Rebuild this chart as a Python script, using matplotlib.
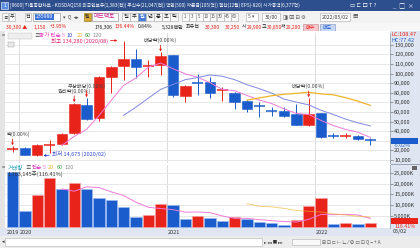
import numpy as np
import matplotlib
matplotlib.use('Agg')
import matplotlib.pyplot as plt
from matplotlib.patches import Rectangle
import matplotlib.transforms as mtrans

plt.rcParams['font.family'] = ['Noto Sans CJK KR', 'DejaVu Sans']

W, H = 420, 248

# monthly candles, 2019/12 .. 2022/05
months = ['2019/12', '2020/01', '2020/02', '2020/03', '2020/04', '2020/05', '2020/06',
          '2020/07', '2020/08', '2020/09', '2020/10', '2020/11', '2020/12', '2021/01',
          '2021/02', '2021/03', '2021/04', '2021/05', '2021/06', '2021/07', '2021/08',
          '2021/09', '2021/10', '2021/11', '2021/12', '2022/01', '2022/02', '2022/03',
          '2022/04', '2022/05']
opens = [21000, 22900, 15200, 25700, 27000, 37900, 67300, 53400, 96700, 108100,
         114800, 107500, 108600, 119300, 76600, 90800, 91500, 82400, 80100, 71400,
         66700, 61800, 60700, 57600, 46500, 58600, 35500, 35000, 35400, 30800]
highs = [24600, 23400, 26500, 30900, 38000, 69500, 74600, 97000, 107500, 134280,
         125200, 113900, 122000, 119500, 88000, 99500, 96500, 86300, 81000, 72500,
         70500, 65500, 65500, 68600, 74600, 59000, 38300, 38000, 36000, 33000]
lows = [18400, 15000, 14675, 17400, 26000, 37000, 51500, 50500, 79400, 93200,
        95200, 96500, 98500, 76000, 69900, 77700, 75000, 71400, 62900, 60300,
        55100, 55800, 55000, 46000, 45500, 32600, 33000, 32500, 31000, 26000]
closes = [22000, 15200, 25700, 26700, 37100, 68300, 52400, 96100, 106500, 114800,
          107100, 107800, 118200, 77700, 87000, 90200, 79400, 83000, 70700, 62800,
          66000, 61300, 55800, 46500, 57900, 34300, 35200, 35600, 31900, 30300]

# price moving averages (5 / 10 / 20)
ma5 = [None] * 4 + [25300, 34600, 42000, 56100, 72100, 87600, 95400, 106500, 110900,
                    105100, 99600, 96200, 90500, 83500, 82100, 77200, 72400, 68800,
                    63300, 58500, 57500, 51200, 45900, 41900, 39000, 33500]
ma10 = [None] * 9 + [56500, 65000, 74300, 83500, 88600, 93600, 95800, 98500, 97200,
                     93600, 88400, 84300, 79600, 73400, 70300, 67400, 61800, 57400,
                     52600, 48700, 45500]
ma20 = [None] * 19 + [72400, 74600, 76900, 78400, 79400, 80500, 78800, 77900, 74900,
                      71200, 66900]

# volume in thousand shares
volume = [25460, 7270, 14940, 22480, 17500, 20050, 17500, 13280, 12550, 9210,
          4700, 5780, 10430, 9980, 3520, 5010, 4240, 2890, 4420, 3520,
          2170, 1850, 950, 3200, 9660, 13450, 1260, 1850, 1515, 1763]
vol_ma5 = [None] * 4 + [17530, 16450, 18490, 18160, 16180, 14520, 11450, 9100, 8530,
                        8020, 6880, 6940, 6640, 5130, 4020, 4020, 3450, 2970, 2580,
                        2340, 3570, 5820, 5700, 5880, 5550, 3970]
vol_ma20 = [None] * 19 + [10740, 9570, 9300, 8600, 7640, 7250, 6920, 6100, 5530,
                          4980, 4610]

price_ticks = [10000, 20000, 30000, 40000, 50000, 60000, 70000, 80000, 90000,
               100000, 110000, 120000, 130000]
price_tick_labels = ['10,000', '20,000', '30,000', '40,000', '50,000', '60,000', '70,000',
                     '80,000', '90,000', '100,000', '110,000', '120,000', '130,000']
vol_ticks = [5000, 10000, 15000, 20000, 25000]
vol_tick_labels = ['5,000K', '10,000K', '15,000K', '20,000K', '25,000K']

year_starts = [0, 1, 13, 25]
year_labels = ['2019', '2020', '2021', '2022']

# (candle, label); the first label is cut by the left edge in the original
events = [(0, '락(0.00%)'), (5, '권리락(0.00%)'), (6, '무상배당(0.00%)'),
          (12, '배당락(0.00%)'), (24, '배당락(0.00%)')]
hi_idx, lo_idx = 9, 2

RED = '#e8231a'
BLUE = '#1b5ccc'
PINK = '#f07ad8'
MBLUE = '#8088e0'
YEL = '#f0b428'
GREEN = '#3aa040'
AXBG = '#dfe6f1'

fig = plt.figure(figsize=(W / 100, H / 100), dpi=100)
fig.patch.set_facecolor('#f0f0f0')


def fx(x):
    return x / W


def fy(y):
    return 1 - y / H


def frect(x0, y0, x1, y1, fc, ec='none', lw=0.5, z=0):
    fig.add_artist(Rectangle((fx(x0), fy(y1)), (x1 - x0) / W, (y1 - y0) / H,
                             transform=fig.transFigure, facecolor=fc, edgecolor=ec,
                             linewidth=lw, zorder=z))


def ftext(x, y, s, size=4.2, color='#222222', ha='left', **kw):
    fig.text(fx(x), fy(y), s, fontsize=size, color=color, ha=ha, va='center', **kw)


# ---- window chrome ----
frect(0, 0, 420, 11, '#2e4f8e')
frect(1, 2, 8, 9, '#5b8de0', ec='white', lw=0.4)
ftext(4.5, 5.5, '1', size=3.5, color='white', ha='center')
ftext(10, 5.5, '[0600] 키움종합차트 - KOSDAQ150 외국인보유(1,383(천)) 주식수(21,047(천)) '
      '액면(500) 자본금(105(억)) 결산(12월) EPS(-820) 시가총액(6,377억)',
      size=3.4, color='white')
ftext(350, 5.5, '▭ ⊏ 口 T ?', size=4, color='white')
ftext(393, 5.5, '_  □  ×', size=4.3, color='white')

frect(0, 11, 420, 23, '#f2f2f2')
for bx, s in [(2, 'ㄹ'), (9, '우'), (25, '전')]:
    frect(bx, 13, bx + 6, 21, '#fafafa', ec='#a8a8a8', lw=0.4)
    ftext(bx + 3, 17, s, size=3.6, ha='center')
frect(33, 13, 60, 21, 'white', ec='#8a8a8a', lw=0.4)
frect(35, 14, 54, 20, '#3b73d8')
ftext(44.5, 17, '235980', size=3.7, color='white', ha='center')
ftext(63, 17, '▾  Q  ◂▸', size=3.6, color='#555555')
frect(84, 13, 91, 21, '#d9a830', ec='#8a6a10', lw=0.4)
ftext(87.5, 17, '웹', size=3.4, color='#333333', ha='center')
frect(92, 13, 118, 21, 'white', ec='#8a8a8a', lw=0.4)
ftext(94, 17, '메드팩토', size=4.2, color='#d02090')
period = ['일', '주', '월', '년', '분', '초', '틱']
for k, s in enumerate(period):
    bx = 122 + 8 * k
    sel = s == '월'
    frect(bx, 13, bx + 7.5, 21, '#4a7fd8' if sel else '#fafafa', ec='#a8a8a8', lw=0.4)
    ftext(bx + 3.75, 17, s, size=3.8, color='white' if sel else '#222222', ha='center')
for k, s in enumerate(['1', '3', '5', '10', '15', '30', '45', '60']):
    bx = 182 + 7 * k
    frect(bx, 13, bx + 6.5, 21, '#fafafa', ec='#a8a8a8', lw=0.4)
    ftext(bx + 3.25, 17, s, size=3.2, color='#555555', ha='center')
frect(246, 13, 258, 21, 'white', ec='#a8a8a8', lw=0.4)
ftext(248, 17, '5 ▾', size=3.6, color='#555555')
frect(262, 13, 280, 21, 'white', ec='#a8a8a8', lw=0.4)
ftext(278, 17, '30/00', size=3.6, color='#333333', ha='right')
ftext(283, 17, '◨ ⊠ ⊟ ⚙', size=3.8, color='#555555')
frect(320, 13, 350, 21, 'white', ec='#a8a8a8', lw=0.4)
ftext(322, 17, '2022/05/02', size=3.7, color='#333333')
ftext(352, 17, '▦', size=4, color='#555555')

frect(0, 23, 420, 31, '#f7f7f7')
PS = 3.6
ftext(6, 27, '30,300 ▲', size=PS, color=RED)
ftext(34, 27, '1,150', size=PS, color=RED)
ftext(50, 27, '+3.95%', size=PS, color=RED)
ftext(95, 27, '176,306', size=PS)
ftext(115, 27, '136.44%', size=PS, color=RED)
ftext(138, 27, '0.84%', size=PS)
ftext(162, 27, '5,328백만', size=PS)
ftext(186, 27, '최유선', size=PS)
ftext(205, 27, '30,300', size=PS, color=RED)
ftext(225, 27, '30,250', size=PS, color=RED)
ftext(242, 27, '시', size=PS)
ftext(247, 27, '29,900', size=PS, color=RED)
ftext(262, 27, '고', size=PS)
ftext(267, 27, '30,850', size=PS, color=RED)
ftext(281, 27, '저', size=PS)
ftext(286, 27, '29,200', size=PS, color=RED)
frect(303, 24, 318, 30.5, '#f7c6cc', ec='#c08088', lw=0.4)
ftext(310.5, 27.2, '매수', size=3.6, color=RED, ha='center')
frect(320, 24, 335, 30.5, '#c6d8f5', ec='#8090c0', lw=0.4)
ftext(327.5, 27.2, '매도', size=3.6, color=BLUE, ha='center')

# chart frame
frect(0, 31, 5, 236, '#e4e4e4')
frect(5, 31, 390, 228, 'white')
frect(390, 31, 420, 236, AXBG)
frect(0, 228, 420, 236, AXBG)
frect(0, 236, 420, 248, '#ececec')
frect(5, 238, 262, 246, 'white', ec='#b0b0b0', lw=0.4)
ftext(1.5, 242, '◂', size=3.6, color='#333333')
ftext(264, 242, '▸ ◂◂ ■ ▸▸', size=3.2, color='#333333')
frect(292, 239, 320, 245, '#f8f8f8', ec='#b0b0b0', lw=0.4)
ftext(322, 242, '⊞ ⊡ ⊏ ⊢ ∟ ⁄ ⊘ ▭ ⊡ Q − + A', size=3.4, color='#555555')

# ---- axes ----
def pax(x0, y0, x1, y1):
    return fig.add_axes([fx(x0), fy(y1), (x1 - x0) / W, (y1 - y0) / H])

idx = np.arange(len(months))
xlim = ((5 - 12.5) / 12.34, (390 - 12.5) / 12.34)

ax = pax(5, 33, 390, 163)
axv = pax(5, 165, 390, 228)
for a in (ax, axv):
    a.set_xlim(*xlim)
    a.set_facecolor('white')
    a.yaxis.tick_right()
    a.tick_params(axis='y', labelsize=4.0, length=2, pad=1, colors='#555555',
                  labelcolor='#333333', width=0.4)
    a.set_xticks([])
    for s in ('top', 'left', 'bottom'):
        a.spines[s].set_visible(False)
    a.spines['right'].set_color('#9aa4b4')
    a.spines['right'].set_linewidth(0.6)
    a.grid(axis='y', color='#e4e4e4', lw=0.6)
    a.set_axisbelow(True)
    for ys in year_starts[1:]:
        a.axvline(ys - 0.5, color='#d6d6d6', lw=0.6, zorder=0)

ax.set_ylim(6970, 142140)
ax.set_yticks(price_ticks)
ax.set_yticklabels(price_tick_labels)
axv.set_ylim(-400, 28490)
axv.set_yticks(vol_ticks)
axv.set_yticklabels(vol_tick_labels)

# candles
for i in idx:
    o, c, h, l = opens[i], closes[i], highs[i], lows[i]
    col = RED if c >= o else BLUE
    ax.vlines(i, l, h, color=col, lw=0.7, zorder=2)
    lo_b, hi_b = min(o, c), max(o, c)
    if hi_b - lo_b < 1200:
        ax.hlines((o + c) / 2, i - 0.43, i + 0.43, color=col, lw=1.1, zorder=3)
    else:
        ax.add_patch(Rectangle((i - 0.43, lo_b), 0.86, hi_b - lo_b, facecolor=col,
                               edgecolor=col, lw=0.4, zorder=3))


def series(vals):
    return np.array([np.nan if v is None else v for v in vals], dtype=float)


ax.plot(idx, series(ma5), color=PINK, lw=0.7, zorder=4)
ax.plot(idx, series(ma10), color=MBLUE, lw=0.7, zorder=4)
ax.plot(idx, series(ma20), color=YEL, lw=0.9, zorder=4)

# event markers: small red arrow on the high with a label above
for i, lab in events:
    ax.annotate('', xy=(i, highs[i]), xytext=(0, 5), textcoords='offset points',
                arrowprops=dict(arrowstyle='-|>', color=RED, lw=0.6, mutation_scale=3,
                                shrinkA=0, shrinkB=0.5), zorder=6)
    if i == 0:
        ax.annotate(lab, xy=(i - 0.45, highs[i]), xytext=(0, 8.5),
                    textcoords='offset points', ha='left', va='center', fontsize=3.8,
                    color='#444444', zorder=6)
    else:
        ax.annotate(lab, xy=(i, highs[i]), xytext=(0, 8.5), textcoords='offset points',
                    ha='center', va='center', fontsize=3.8, color='#444444', zorder=6)

ax.annotate('최고 134,280 (2020/08)', xy=(hi_idx - 0.5, highs[hi_idx]), xytext=(-7, 0),
            textcoords='offset points', ha='right', va='center', fontsize=4.0,
            color='#e0206a',
            arrowprops=dict(arrowstyle='-|>', color=RED, lw=0.6, mutation_scale=3,
                            shrinkA=0, shrinkB=0), zorder=6)
ax.annotate('최저 14,675 (2020/02)', xy=(lo_idx + 0.5, lows[lo_idx]), xytext=(6, 1.5),
            textcoords='offset points', ha='left', va='center', fontsize=4.0,
            color='#3048c8',
            arrowprops=dict(arrowstyle='-|>', color='#3048c8', lw=0.6, mutation_scale=3,
                            shrinkA=0, shrinkB=0), zorder=6)

# volume bars, red when volume rose on the previous month
vcols = [BLUE] + [RED if volume[k] > volume[k - 1] else BLUE for k in idx[1:]]
vedges = ['#f4a0a0' if c == RED else '#9ab8ec' for c in vcols]
axv.bar(idx, volume, width=0.92, color=vcols, edgecolor=vedges, lw=0.5, zorder=2)
axv.plot(idx, series(vol_ma5), color=PINK, lw=0.7, zorder=4)
axv.plot(idx, series(vol_ma20), color=YEL, lw=0.7, alpha=0.6, zorder=4)

# legends inside panels
ftext(2, 35.5, '= ', size=4)
frect(8, 32.5, 32, 38.5, '#eeeeee', ec='#bbbbbb', lw=0.3, z=5)
ftext(9, 35.5, '메드팩토', size=4.0, color='#444444')
ftext(34, 35.5, '≡', size=4, color='#444444')
ftext(39, 35.5, '종가 단순', size=4.0, color='#e040c0')
ftext(62, 35.5, '5', size=4.0, color=PINK)
ftext(67, 35.5, '10', size=4.0, color='#4050d0')
ftext(77, 35.5, '20', size=4.0, color=YEL)
ftext(85, 35.5, '60', size=4.0, color=GREEN)
ftext(93, 35.5, '120', size=4.0, color='#888888')
frect(8, 41.5, 13.5, 46.5, '#e8e8e8', ec='#999999', lw=0.3, z=5)

ftext(2, 167.5, '= ', size=4)
ftext(8, 167.5, '거래량', size=4.0, color='#20a0b4')
ftext(25, 167.5, '≡', size=4, color='#444444')
ftext(31, 167.5, '단순', size=4.0, color='#e040c0')
ftext(43, 167.5, '5', size=4.0, color=PINK)
ftext(48, 167.5, '20', size=4.0, color=YEL)
ftext(57, 167.5, '60', size=4.0, color=GREEN)
ftext(65, 167.5, '120', size=4.0, color='#888888')
ftext(8, 174, '1,763,145주(116.41%)', size=4.0, color='#333333')

# right-axis labels
ftext(392, 35, 'LC:108.47', size=4.0, color=RED)
ftext(392, 40.5, 'HC:77.42', size=4.0, color=BLUE)
frect(390.5, 137.5, 418, 143.5, BLUE, z=5)
ftext(394, 140.5, '30,300', size=4.0, color='white')
ftext(394, 145.5, '-5.02%', size=3.8, color=BLUE)
frect(390.5, 163.5, 420, 164.8, '#9aa4b4')
frect(412, 165.5, 417, 170, '#666666', z=5)
frect(390.5, 218, 418, 224, RED, z=5)
ftext(394, 221, '1,763K', size=4.0, color='white')
ftext(394, 226, '116.41%', size=3.8, color=RED)

# x axis labels
trans = mtrans.blended_transform_factory(ax.transData, fig.transFigure)
for ys, lab in zip(year_starts, year_labels):
    fig.text(ys - 0.45, fy(232), lab, transform=trans, fontsize=4.0, color='#333333',
             ha='left', va='center')
ftext(393, 232, '05/02', size=4.0, color='#333333')

fig.savefig('out.png', dpi=100, facecolor=fig.get_facecolor())
